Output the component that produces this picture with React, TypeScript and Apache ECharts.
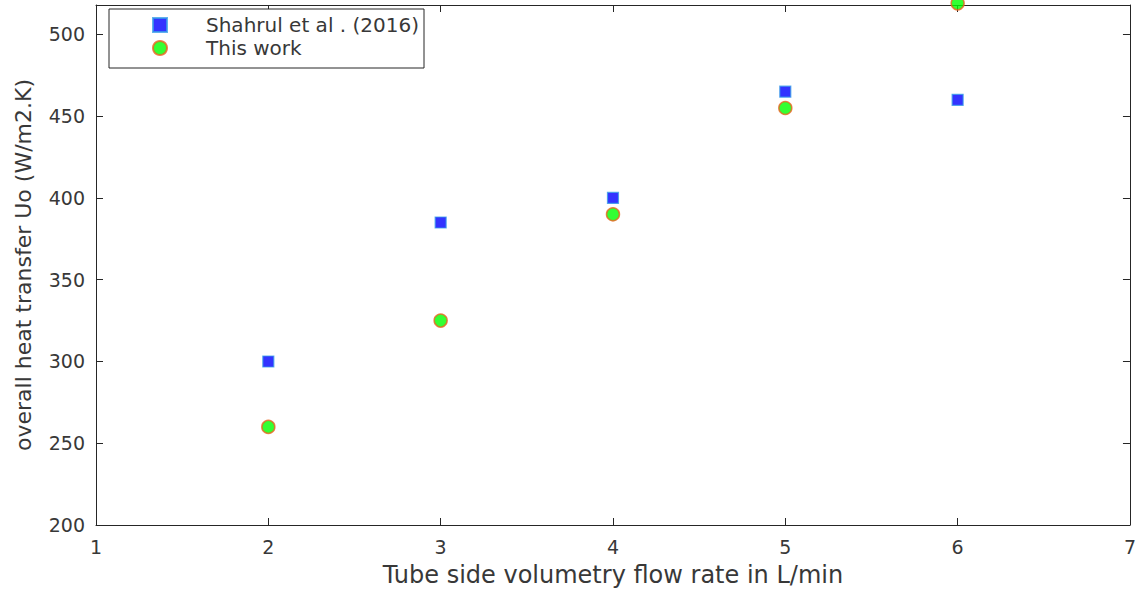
import React, { useEffect, useRef } from "react";
import * as echarts from "echarts";

const flowRates = [2, 3, 4, 5, 6];
const shahrulValues = [300, 385, 400, 465, 460];
const thisWorkValues = [260, 325, 390, 455, 519];
const xTicks = [1, 2, 3, 4, 5, 6, 7];
const seriesNames = ["Shahrul et al . (2016)", "This work"];

export default function App() {
  const ref = useRef<HTMLDivElement>(null);
  useEffect(() => {
    if (!ref.current) return;
    const chart = echarts.init(ref.current, undefined, { renderer: "svg" });
    const font = "DejaVu Sans, Liberation Sans, Arial, sans-serif";
    const axisColor = "#262626";
    const textColor = "#383838";
    const grid = { left: 96, right: 4, top: 5, bottom: 65 };
    chart.setOption({
      animation: false,
      backgroundColor: "#ffffff",
      grid,
      legend: {
        left: 109,
        top: 9,
        orient: "vertical",
        backgroundColor: "#ffffff",
        borderColor: axisColor,
        borderWidth: 1,
        borderRadius: 0,
        padding: [6, 5, 10, 43],
        itemWidth: 14,
        itemHeight: 14,
        itemGap: 3,
        textStyle: {
          fontFamily: font,
          fontSize: 20,
          lineHeight: 16,
          color: textColor,
          padding: [0, 0, 0, 34],
        },
        data: seriesNames,
      },
      xAxis: [
        {
          type: "value",
          min: xTicks[0],
          max: xTicks[xTicks.length - 1],
          interval: 1,
          name: "Tube side volumetry flow rate in L/min",
          nameLocation: "middle",
          nameGap: 38,
          nameTextStyle: { fontFamily: font, fontSize: 24, color: textColor },
          axisLine: { show: true, lineStyle: { color: axisColor, width: 1 } },
          axisTick: { show: true, inside: true, length: 7, lineStyle: { color: axisColor } },
          axisLabel: { fontFamily: font, fontSize: 19, color: textColor, margin: 12 },
          splitLine: { show: false },
        },
        {
          type: "value",
          position: "top",
          min: xTicks[0],
          max: xTicks[xTicks.length - 1],
          interval: 1,
          axisLine: { show: true, onZero: false, lineStyle: { color: axisColor, width: 1 } },
          axisTick: { show: true, inside: true, length: 7, lineStyle: { color: axisColor } },
          axisLabel: { show: false },
          splitLine: { show: false },
        },
      ],
      yAxis: [
        {
          type: "value",
          min: 200,
          max: 518,
          interval: 50,
          name: "overall heat transfer Uo (W/m2.K)",
          nameLocation: "middle",
          nameGap: 62,
          nameTextStyle: { fontFamily: font, fontSize: 22, color: textColor },
          axisLine: { show: true, lineStyle: { color: axisColor, width: 1 } },
          axisTick: { show: true, inside: true, length: 7, lineStyle: { color: axisColor } },
          axisLabel: { fontFamily: font, fontSize: 19, color: textColor, margin: 11, showMaxLabel: false },
          splitLine: { show: false },
        },
        {
          type: "value",
          position: "right",
          min: 200,
          max: 518,
          interval: 50,
          axisLine: { show: true, onZero: false, lineStyle: { color: axisColor, width: 1 } },
          axisTick: { show: true, inside: true, length: 7, lineStyle: { color: axisColor } },
          axisLabel: { show: false },
          splitLine: { show: false },
        },
      ],
      series: [
        {
          name: seriesNames[0],
          type: "scatter",
          symbol: "rect",
          symbolSize: 11,
          clip: false,
          itemStyle: { color: "#0000ff", borderColor: "#3a9ee8", borderWidth: 1.2 },
          data: flowRates.map((x, i) => [x, shahrulValues[i]]),
        },
        {
          name: seriesNames[1],
          type: "scatter",
          symbol: "circle",
          symbolSize: 13,
          clip: false,
          itemStyle: { color: "#00ff00", borderColor: "#e8641e", borderWidth: 1.5 },
          data: flowRates.map((x, i) => [x, thisWorkValues[i]]),
        },
      ],
    });
    return () => chart.dispose();
  }, []);
  return (
    <div
      ref={ref}
      style={{ position: "fixed", left: 0, top: 0, width: 1139, height: 592, background: "#fff" }}
    />
  );
}
